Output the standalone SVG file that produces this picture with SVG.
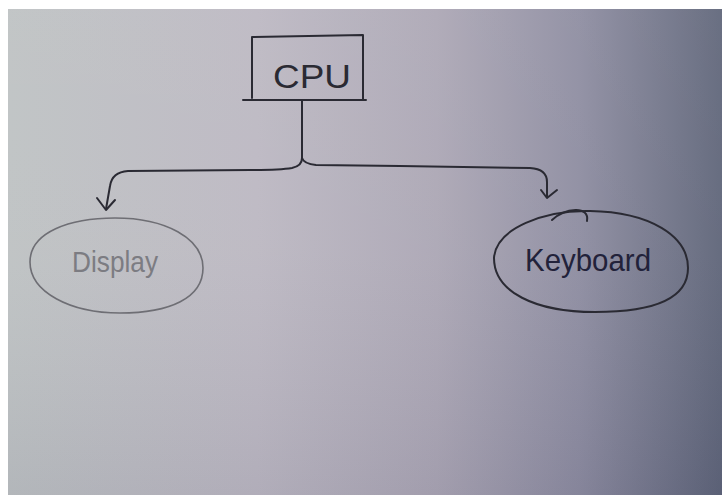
<svg xmlns="http://www.w3.org/2000/svg" width="722" height="495" viewBox="0 0 722 495">
  <defs>
    <linearGradient id="paper" x1="0" y1="0" x2="1" y2="0">
      <stop offset="0" stop-color="#bec2c3"/>
      <stop offset="0.35" stop-color="#bcb8c2"/>
      <stop offset="0.6" stop-color="#aca7b5"/>
      <stop offset="0.8" stop-color="#8e8da1"/>
      <stop offset="1" stop-color="#60667a"/>
    </linearGradient>
    <linearGradient id="shade" x1="0" y1="0" x2="0" y2="1">
      <stop offset="0" stop-color="#ffffff" stop-opacity="0.06"/>
      <stop offset="0.5" stop-color="#ffffff" stop-opacity="0.04"/>
      <stop offset="1" stop-color="#000030" stop-opacity="0.06"/>
    </linearGradient>
  </defs>
  <style>
    .ink { fill: none; stroke: #2a2a33; stroke-width: 2; stroke-linecap: round; stroke-linejoin: round; }
    .pencil { fill: none; stroke: #6e6e74; stroke-width: 1.6; stroke-linecap: round; stroke-linejoin: round; }
    .label { font-family: "Liberation Sans", "DejaVu Sans", sans-serif; text-anchor: middle; }
  </style>

  <rect x="0" y="0" width="722" height="495" fill="#ffffff"/>
  <rect x="8" y="9" width="714" height="486" fill="url(#paper)"/>
  <rect x="8" y="9" width="714" height="486" fill="url(#shade)"/>

  <g id="connectors">
    <path class="ink" d="M302 101 L302 158 Q302 166 292 168 Q280 170 250 170 L128 171 Q112 172 110 186 L106 209"/>
    <path class="ink" d="M97 198 L106 210 L115 200"/>
    <path class="ink" d="M302 158 Q304 164 316 165 L400 166 L530 168 Q547 169 547 182 L547 197"/>
    <path class="ink" d="M541 190 L547 198 L557 190"/>
  </g>

  <g id="cpu">
    <path class="ink" d="M252 37 L363 35 L363 100 M252 37 L252 98 M243 100 L366 100"/>
    <text class="label" x="312" y="88" font-size="34" fill="#2a2a33" textLength="78" lengthAdjust="spacingAndGlyphs">CPU</text>
  </g>

  <g id="display">
    <path class="pencil" d="M30 262 C30 232 70 218 115 218 C165 218 203 238 203 268 C203 298 170 313 120 313 C70 313 30 292 30 262 Z"/>
    <text class="label" x="115" y="272" font-size="30" fill="#7c7c82" textLength="86" lengthAdjust="spacingAndGlyphs">Display</text>
  </g>

  <g id="keyboard">
    <path class="ink" d="M494 258 C496 228 545 210 590 211 C650 212 688 236 688 268 C688 300 650 312 595 312 C535 312 494 292 494 258 Z" stroke="#22223a"/>
    <path class="ink" d="M552 220 C565 208 590 205 587 221" stroke="#22223a" stroke-width="1.4"/>
    <text class="label" x="588" y="271" font-size="32" fill="#22223a" textLength="126" lengthAdjust="spacingAndGlyphs">Keyboard</text>
  </g>
</svg>
